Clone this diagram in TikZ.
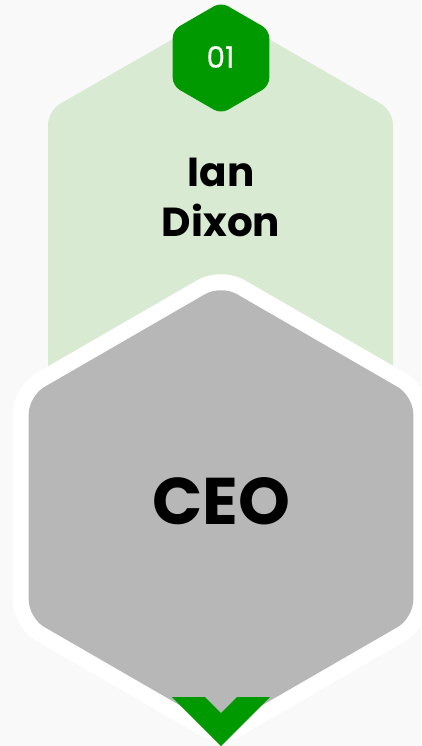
\documentclass[tikz,border=0pt]{standalone}
\usepackage{fontspec}
\setmainfont{Poppins}
\newfontfamily\numfamily{Poppins}[FakeBold=0.5]
\definecolor{bgc}{HTML}{F9F9F9}
\definecolor{lightgreen}{HTML}{D9EAD3}
\definecolor{darkgreen}{HTML}{009900}
\definecolor{grayc}{HTML}{B7B7B7}
\tikzset{
  namefont/.style={anchor=base, text=black, font=\bfseries\fontsize{40.5}{48}\selectfont, inner sep=0pt},
  rolefont/.style={anchor=base, text=black, font=\bfseries\fontsize{66}{78}\selectfont, inner sep=0pt},
  numfont/.style={anchor=base, text=white, font=\numfamily\fontsize{29.5}{36}\selectfont, inner sep=0pt},
}
\begin{document}
\begin{tikzpicture}[x=1pt,y=-1pt]
\useasboundingbox (0,0) rectangle (421,746);
\fill[bgc] (0,0) rectangle (421,746);
% light green card
\fill[lightgreen, rounded corners=14pt] (48,300) -- (48,110.7) -- (221,11.4) -- (393,110.7) -- (393,430) -- (48,430) -- cycle;
% white border of gray hexagon
\path[draw=white, fill=white, line width=32pt, line join=round, rounded corners=18pt]
  (28.7,507) -- (28.7,396) -- (221,285) -- (413.3,396) -- (413.3,618) -- (221,729) -- (28.7,618) -- cycle;
% gray hexagon
\fill[grayc, rounded corners=18pt]
  (28.7,507) -- (28.7,396) -- (221,285) -- (413.3,396) -- (413.3,618) -- (221,729) -- (28.7,618) -- cycle;
% small number hexagon
\fill[darkgreen, rounded corners=8pt]
  (172.7,58) -- (172.7,30.1) -- (221,2.2) -- (269.3,30.1) -- (269.3,85.9) -- (221,113.8) -- (172.7,85.9) -- cycle;
% chevron arrow
\fill[darkgreen] (172,697) -- (205,697) -- (221,713) -- (237,697) -- (270,697) -- (221,746) -- cycle;
% texts
\node[numfont] (num) at (220.5,67.8) {01};
\node[namefont] (first) at (221,186.7) {Ian};
\node[namefont] (last) at (221,236.7) {Dixon};
\node[rolefont] (role) at (221,524) {CEO};
\end{tikzpicture}
\end{document}
